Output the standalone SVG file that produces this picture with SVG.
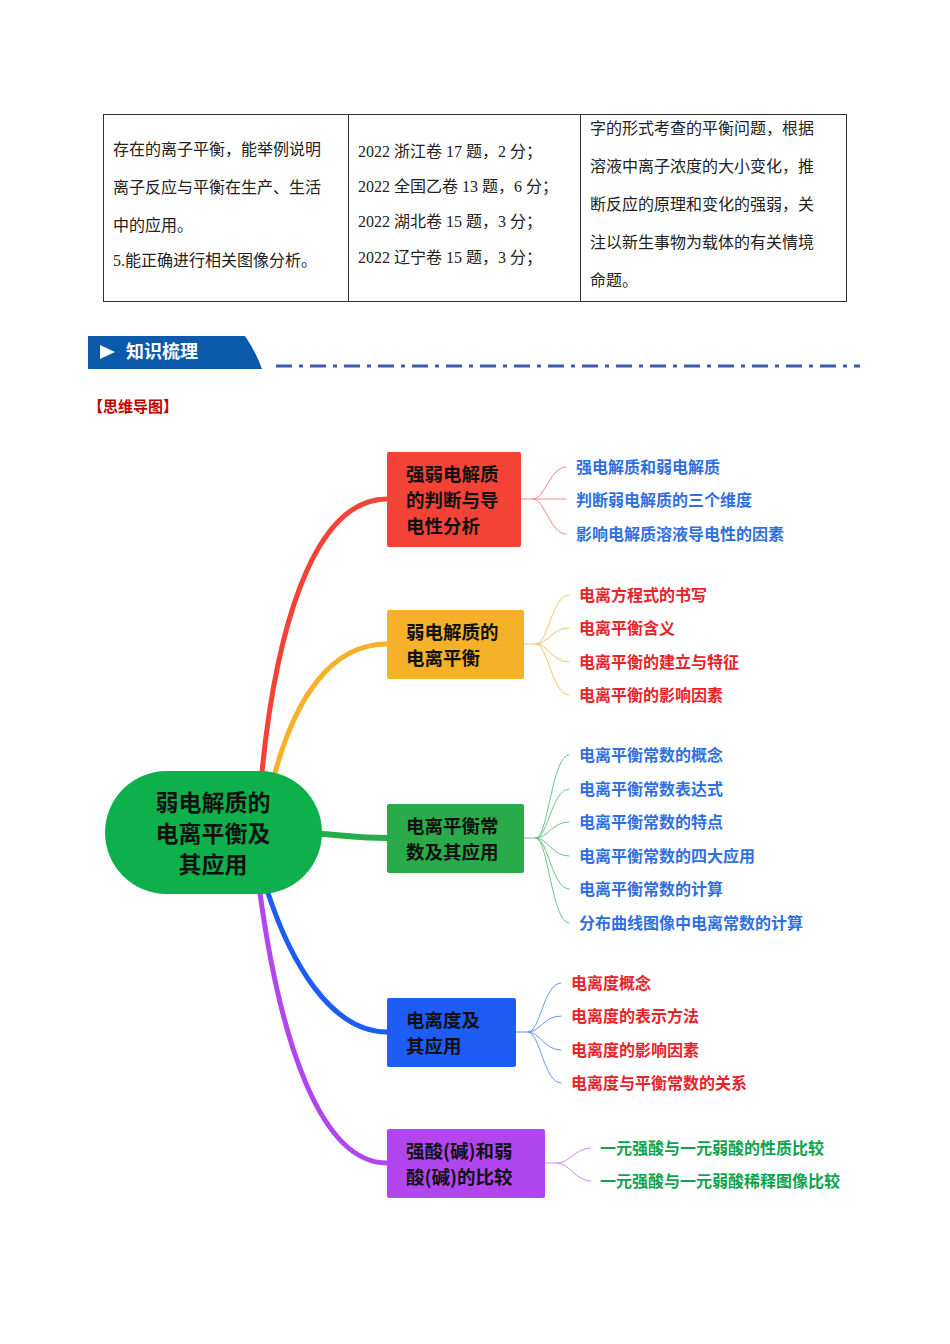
<svg xmlns="http://www.w3.org/2000/svg" width="950" height="1344" viewBox="0 0 950 1344">
<style>
.tb{font-family:"Liberation Serif","Noto Sans CJK SC",serif;font-size:16px;fill:#222}
.nd{font-family:"Noto Sans CJK SC",sans-serif;font-size:18.5px;font-weight:bold;fill:#111}
.rt{font-size:23px}
.ch{font-family:"Noto Sans CJK SC",sans-serif;font-size:16px;font-weight:bold}
.b{fill:#2f6fe0}.r{fill:#e8232a}.g{fill:#0aa34f}
.fk{fill:none;stroke-width:1}
</style>
<rect width="950" height="1344" fill="#fff"/>
<g id="table" fill="none" stroke="#333" stroke-width="1">
<rect x="103.5" y="114.5" width="743" height="187"/>
<line x1="348.5" y1="114" x2="348.5" y2="302"/>
<line x1="580.5" y1="114" x2="580.5" y2="302"/>
</g>
<g class="tb">
<text x="113" y="155">存在的离子平衡，能举例说明</text>
<text x="113" y="193">离子反应与平衡在生产、生活</text>
<text x="113" y="231">中的应用。</text>
<text x="113" y="266">5.能正确进行相关图像分析。</text>
<text x="358" y="157">2022 浙江卷 17 题，2 分；</text>
<text x="358" y="192">2022 全国乙卷 13 题，6 分；</text>
<text x="358" y="227">2022 湖北卷 15 题，3 分；</text>
<text x="358" y="263">2022 辽宁卷 15 题，3 分；</text>
<text x="590" y="134">字的形式考查的平衡问题，根据</text>
<text x="590" y="172">溶液中离子浓度的大小变化，推</text>
<text x="590" y="210">断反应的原理和变化的强弱，关</text>
<text x="590" y="248">注以新生事物为载体的有关情境</text>
<text x="590" y="286">命题。</text>
</g>
<g id="header">
<path d="M88 336 H245 Q256 352 262 369 H88 Z" fill="#0c5aab"/>
<path d="M100 345 L115 352 L100 359 Z" fill="#fff"/>
<text x="126" y="358" font-family="Noto Sans CJK SC,sans-serif" font-size="18" font-weight="bold" fill="#fff">知识梳理</text>
<line x1="276" y1="366" x2="860" y2="366" stroke="#3d5aa6" stroke-width="3" stroke-dasharray="16 7 4 7"/>
<text x="88" y="412" font-family="Noto Sans CJK SC,sans-serif" font-size="15" font-weight="bold" fill="#c00000">【思维导图】</text>
</g>
<g id="connectors" fill="none" stroke-linecap="round">
<path d="M262 772 C275 640 310 499 387 499" stroke="#f44336" stroke-width="5"/>
<path d="M275 773 C295 700 330 644 387 644" stroke="#f6b12a" stroke-width="5"/>
<path d="M322 834 C350 836 360 838 387 838" stroke="#2aab4a" stroke-width="6"/>
<path d="M268 893 C290 960 330 1032 387 1032" stroke="#1e5cf6" stroke-width="5"/>
<path d="M260 893 C280 1040 320 1163 387 1163" stroke="#b146ee" stroke-width="5"/>
<g class="fk" stroke="#f08a80">
<path d="M521 499 H533 C545 499 550 467 566 467"/><path d="M533 499 H566"/><path d="M533 499 C545 499 550 534 566 534"/>
</g>
<g class="fk" stroke="#f6c56a">
<path d="M524 644 H536 C548 644 552 595 569 595"/><path d="M536 644 C548 644 552 628 569 628"/><path d="M536 644 C548 644 552 662 569 662"/><path d="M536 644 C548 644 552 695 569 695"/>
</g>
<g class="fk" stroke="#6cc48a">
<path d="M524 838 H536 C548 838 552 755 569 755"/><path d="M536 838 C548 838 552 789 569 789"/><path d="M536 838 C548 838 552 822 569 822"/><path d="M536 838 C548 838 552 856 569 856"/><path d="M536 838 C548 838 552 889 569 889"/><path d="M536 838 C548 838 552 923 569 923"/>
</g>
<g class="fk" stroke="#6f95f0">
<path d="M516 1032 H528 C540 1032 544 983 561 983"/><path d="M528 1032 C540 1032 544 1016 561 1016"/><path d="M528 1032 C540 1032 544 1050 561 1050"/><path d="M528 1032 C540 1032 544 1083 561 1083"/>
</g>
<g class="fk" stroke="#cf8cf3">
<path d="M545 1163 H557 C570 1163 575 1148 591 1148"/><path d="M557 1163 C570 1163 575 1181 591 1181"/>
</g>
</g>
<g id="root"><rect x="105" y="771" width="217" height="123" rx="61.5" fill="#0db04b"/>
<text class="nd rt" text-anchor="middle"><tspan x="213" y="811">弱电解质的</tspan><tspan x="213" y="842">电离平衡及</tspan><tspan x="213" y="873">其应用</tspan></text></g>
<g id="n1"><rect x="387" y="452" width="134" height="95" rx="2" fill="#f44336"/>
<text class="nd"><tspan x="406" y="481">强弱电解质</tspan><tspan x="406" y="507">的判断与导</tspan><tspan x="406" y="533">电性分析</tspan></text></g>
<g id="n2"><rect x="387" y="610" width="137" height="69" rx="2" fill="#f6b12a"/>
<text class="nd"><tspan x="406" y="639">弱电解质的</tspan><tspan x="406" y="665">电离平衡</tspan></text></g>
<g id="n3"><rect x="387" y="804" width="137" height="69" rx="2" fill="#2aab4a"/>
<text class="nd"><tspan x="406" y="833">电离平衡常</tspan><tspan x="406" y="859">数及其应用</tspan></text></g>
<g id="n4"><rect x="387" y="998" width="129" height="69" rx="2" fill="#1e5cf6"/>
<text class="nd"><tspan x="406" y="1027">电离度及</tspan><tspan x="406" y="1053">其应用</tspan></text></g>
<g id="n5"><rect x="387" y="1129" width="158" height="69" rx="2" fill="#b146ee"/>
<text class="nd"><tspan x="406" y="1158">强酸(碱)和弱</tspan><tspan x="406" y="1184">酸(碱)的比较</tspan></text></g>
<g id="leaves" class="ch">
<text class="b" x="576" y="473">强电解质和弱电解质</text>
<text class="b" x="576" y="506">判断弱电解质的三个维度</text>
<text class="b" x="576" y="540">影响电解质溶液导电性的因素</text>
<text class="r" x="579" y="601">电离方程式的书写</text>
<text class="r" x="579" y="634">电离平衡含义</text>
<text class="r" x="579" y="668">电离平衡的建立与特征</text>
<text class="r" x="579" y="701">电离平衡的影响因素</text>
<text class="b" x="579" y="761">电离平衡常数的概念</text>
<text class="b" x="579" y="795">电离平衡常数表达式</text>
<text class="b" x="579" y="828">电离平衡常数的特点</text>
<text class="b" x="579" y="862">电离平衡常数的四大应用</text>
<text class="b" x="579" y="895">电离平衡常数的计算</text>
<text class="b" x="579" y="929">分布曲线图像中电离常数的计算</text>
<text class="r" x="571" y="989">电离度概念</text>
<text class="r" x="571" y="1022">电离度的表示方法</text>
<text class="r" x="571" y="1056">电离度的影响因素</text>
<text class="r" x="571" y="1089">电离度与平衡常数的关系</text>
<text class="g" x="600" y="1154">一元强酸与一元弱酸的性质比较</text>
<text class="g" x="600" y="1187">一元强酸与一元弱酸稀释图像比较</text>
</g>
</svg>
